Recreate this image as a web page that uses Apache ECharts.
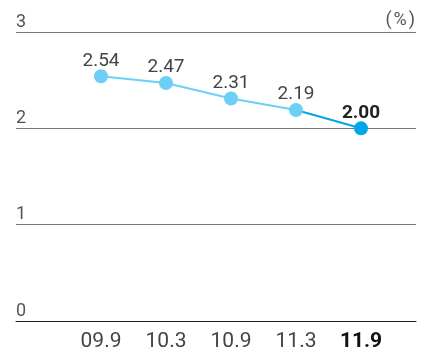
<!DOCTYPE html>
<html><head><meta charset="utf-8">
<script src="https://cdn.jsdelivr.net/npm/echarts@6/dist/echarts.min.js"></script>
<style>html,body{margin:0;padding:0;background:#fff}#c{width:428px;height:352px}</style>
</head><body><div id="c"></div>
<script>
var categories = ['09.9', '10.3', '10.9', '11.3', '11.9'];
var values = [2.54, 2.47, 2.31, 2.19, 2.00];
var yTicks = [0, 1, 2, 3];
var unitLabel = '(%)';

var FONT = 'Roboto, "Liberation Sans", sans-serif';
var LIGHT = '#6dcff6';
var DARK = '#00a6e8';
var last = values.length - 1;

var catData = categories.map(function (c, i) {
  return i === last ? { value: c, textStyle: { fontWeight: 'bold', color: '#111' } } : c;
});
var lightData = values.map(function (v, i) { return i < last ? v : null; });
var darkData = values.map(function (v, i) {
  if (i === last) return v;
  if (i === last - 1) return { value: v, symbol: 'none', label: { show: false } };
  return null;
});
function fmt(p) { return Number(p.value).toFixed(2); }

var chart = echarts.init(document.getElementById('c'));
chart.setOption({
  animation: false,
  grid: [
    { left: 16, right: 12, top: 32, bottom: 31 },
    { left: 68.5, right: 34.5, top: 32, bottom: 31 }
  ],
  xAxis: [
    { type: 'value', gridIndex: 0, min: 0, max: 1, show: true,
      axisLine: { show: true, lineStyle: { color: '#222', width: 1 } },
      axisTick: { show: false }, axisLabel: { show: false }, splitLine: { show: false } },
    { type: 'category', gridIndex: 1, data: catData, boundaryGap: true,
      axisLine: { show: false }, axisTick: { show: false },
      axisLabel: { color: '#444', fontSize: 21, fontFamily: FONT, margin: 10 } }
  ],
  yAxis: [
    { type: 'value', gridIndex: 0, min: yTicks[0], max: yTicks[yTicks.length - 1], interval: 1,
      axisLine: { show: false }, axisTick: { show: false },
      splitLine: { lineStyle: { color: '#777', width: 1 } },
      axisLabel: { inside: true, margin: 0, verticalAlign: 'bottom', padding: [0, 0, 1, 0],
        color: '#555', fontSize: 18, fontFamily: FONT } },
    { type: 'value', gridIndex: 1, min: yTicks[0], max: yTicks[yTicks.length - 1], show: false }
  ],
  graphic: [
    { type: 'text', right: 13, top: 11,
      style: { text: '{p|' + unitLabel.charAt(0) + '}{m|' + unitLabel.charAt(1) + '}{p|' + unitLabel.charAt(2) + '}',
        fill: '#555', fontSize: 18, fontFamily: FONT,
        rich: { p: { fontSize: 18, fontFamily: FONT, fill: '#555' },
                m: { fontSize: 18, fontFamily: FONT, fill: '#555', padding: [0, 2] } } } }
  ],
  series: [
    { type: 'line', xAxisIndex: 1, yAxisIndex: 1, data: darkData, z: 2,
      symbol: 'circle', symbolSize: 14, connectNulls: false,
      lineStyle: { color: DARK, width: 2 }, itemStyle: { color: DARK },
      label: { show: true, position: 'top', distance: -1, color: '#222', fontSize: 19,
        fontWeight: 'bold', fontFamily: FONT, formatter: fmt } },
    { type: 'line', xAxisIndex: 1, yAxisIndex: 1, data: lightData, z: 3,
      symbol: 'circle', symbolSize: 14,
      lineStyle: { color: LIGHT, width: 2 }, itemStyle: { color: LIGHT },
      label: { show: true, position: 'top', distance: -1, color: '#444', fontSize: 19,
        fontFamily: FONT, formatter: fmt } }
  ]
});
</script></body></html>
